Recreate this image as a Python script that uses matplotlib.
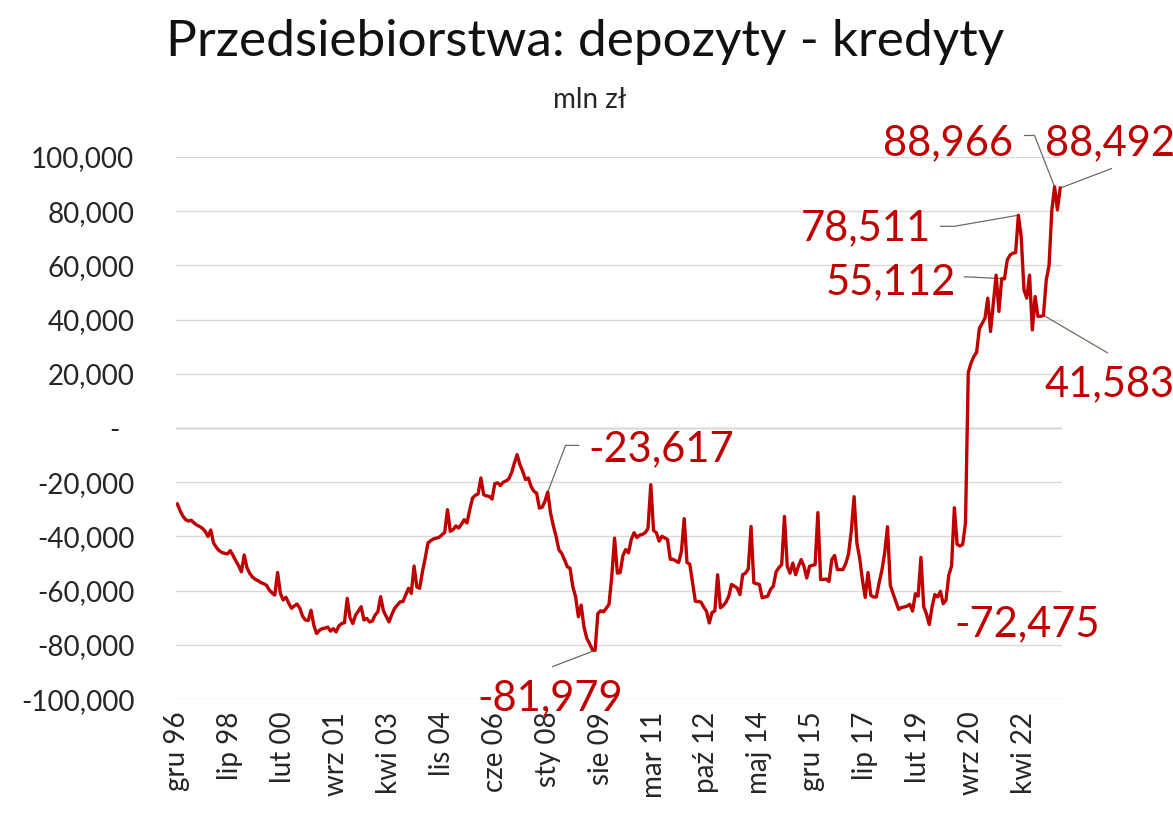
import matplotlib
matplotlib.use("Agg")
import matplotlib.pyplot as plt
import numpy as np

# Monthly balance, gru 96 .. maj 23, thousands of PLN million
balance = [
    -28.0, -30.5, -32.5, -33.8, -34.3, -34.0, -35.0, -35.8, -36.3, -37.0,
    -38.1, -40.0, -37.6, -42.4, -44.0, -45.2, -45.9, -46.2, -46.4, -45.2,
    -47.0, -49.0, -50.8, -53.0, -46.8, -51.5, -53.6, -55.0, -55.8, -56.3,
    -57.0, -57.4, -58.0, -59.7, -60.8, -61.6, -53.3, -61.0, -63.4, -62.4,
    -64.6, -66.5, -65.6, -64.9, -66.5, -69.5, -70.8, -71.0, -67.2, -72.7,
    -75.8, -74.6, -74.0, -73.8, -73.4, -74.9, -74.0, -75.2, -73.0, -72.1,
    -71.8, -62.8, -70.0, -72.1, -69.0, -67.5, -65.9, -70.8, -70.2, -71.5,
    -71.2, -69.0, -67.8, -62.2, -67.4, -69.5, -71.5, -68.8, -66.5, -65.3,
    -64.1, -64.0, -61.5, -59.1, -61.0, -50.9, -58.6, -59.1, -53.0, -48.0,
    -42.4, -41.5, -40.9, -40.6, -40.3, -39.4, -38.5, -30.1, -38.1, -37.5,
    -36.1, -36.9, -35.5, -33.8, -35.0, -30.1, -25.8, -24.8, -24.3, -18.4,
    -24.6, -25.0, -25.2, -26.2, -20.5, -20.2, -21.2, -20.0, -19.5, -18.8,
    -16.5, -13.0, -9.8, -13.5, -15.9, -19.0, -18.4, -21.5, -23.3, -24.0,
    -29.5, -29.2, -27.0, -23.617, -31.3, -36.0, -40.0, -44.9, -46.2, -48.5,
    -51.1, -51.7, -58.5, -62.2, -69.6, -65.3, -73.3, -77.5, -79.5, -81.7,
    -81.979, -68.4, -67.4, -67.8, -66.5, -65.0, -54.6, -40.6, -53.5, -53.3,
    -47.0, -44.8, -46.0, -41.1, -38.6, -40.4, -39.5, -39.2, -38.6, -37.0,
    -20.9, -37.8, -38.6, -41.7, -39.9, -40.5, -41.1, -48.4, -48.4, -49.0,
    -49.6, -45.5, -33.4, -49.6, -50.2, -57.0, -63.9, -64.0, -64.2, -66.0,
    -67.6, -71.9, -68.0, -67.5, -54.1, -66.3, -65.5, -64.2, -62.0, -57.7,
    -58.3, -59.0, -61.4, -54.1, -53.5, -52.0, -36.3, -57.1, -57.4, -57.7,
    -62.6, -62.3, -62.0, -59.5, -58.3, -53.0, -51.5, -50.4, -32.6, -51.0,
    -53.5, -49.8, -54.1, -51.0, -48.5, -51.0, -55.3, -51.0, -50.6, -50.4,
    -31.2, -55.9, -55.8, -55.7, -56.6, -48.5, -47.0, -52.2, -52.2, -52.2,
    -50.0, -46.5, -38.0, -25.3, -42.4, -48.0, -56.0, -62.5, -53.3, -61.7,
    -62.3, -62.3, -57.0, -52.4, -46.0, -36.4, -58.0, -61.1, -64.0, -66.9,
    -66.2, -66.0, -65.7, -65.0, -67.5, -61.1, -62.0, -47.7, -65.9, -68.6,
    -72.475, -66.0, -61.4, -62.3, -60.2, -64.8, -63.5, -54.3, -50.9, -29.4,
    -42.9, -43.5, -42.9, -35.0, 20.5, 24.0, 26.4, 27.9, 36.8, 38.6,
    40.5, 47.9, 35.6, 46.1, 56.4, 43.0, 55.112, 55.0, 62.0, 63.8,
    64.5, 64.7, 78.511, 70.5, 51.0, 47.9, 56.4, 36.2, 48.5, 41.2,
    41.2, 41.583, 54.6, 59.9, 80.3, 88.966, 80.5, 88.492,
]
values = np.array(balance) * 1000

tick_labels = ["gru 96", "lip 98", "lut 00", "wrz 01", "kwi 03", "lis 04",
               "cze 06", "sty 08", "sie 09", "mar 11", "paź 12", "maj 14",
               "gru 15", "lip 17", "lut 19", "wrz 20", "kwi 22"]
tick_step = 19

# labelled points: index, text anchor (x, y), alignment, leader path
callouts = [
    (133, (147.7, -7900), "left", [(144.1, -6400), (139.4, -6400)]),
    (150, (134.0, -99800), "center", [(134.7, -88000)]),
    (270, (279.0, -72200), "left", []),
    (296, (279.7, 53900), "right", [(282.6, 55800)]),
    (302, (270.7, 73700), "right", [(274.0, 74400), (279.0, 74400)]),
    (311, (311.4, 16000), "left", [(333.9, 27800)]),
    (315, (300.2, 105000), "right", [(304.2, 107900), (307.8, 107900)]),
    (317, (311.4, 105000), "left", [(335.4, 95700)]),
]

red = "#C00000"
text_color = "#262626"
plt.rcParams["font.family"] = ["Lato", "DejaVu Sans"]

fig = plt.figure(figsize=(11.73, 8.13), dpi=100)
ax = fig.add_axes([0.150, 0.140, 0.755, 0.667])

x = np.arange(len(values))
ax.plot(x, values, color=red, lw=2.4, solid_joinstyle="round", zorder=3)

ax.set_xlim(-0.5, len(values) - 0.5)
ax.set_ylim(-100000, 100000)

yticks = np.arange(-100000, 100001, 20000)
ax.set_yticks(yticks)
ax.set_yticklabels([f"{v:,.0f}" if v != 0 else "-  " for v in yticks])
ax.set_xticks(np.arange(0, len(values), tick_step))
ax.set_xticklabels(tick_labels, rotation=90, ha="center", va="top")

ax.tick_params(axis="y", length=0, pad=30, labelsize=20, labelcolor=text_color)
ax.tick_params(axis="x", length=0, pad=9, labelsize=20, labelcolor=text_color)

ax.grid(axis="y", color="#d9d9d9", lw=1.0, zorder=0)
ax.axhline(0, color="#a6a6a6", lw=1.0, zorder=1)
for s in ax.spines.values():
    s.set_visible(False)

for idx, (tx, ty), align, path in callouts:
    val = values[idx]
    ax.text(tx, ty, f"{val:,.0f}", color=red, fontsize=30,
            ha=align, va="center", zorder=4)
    if path:
        px = [p[0] for p in path] + [idx]
        py = [p[1] for p in path] + [val]
        ax.plot(px, py, color="#6b6b5f", lw=0.9, zorder=2, clip_on=False)

fig.text(0.499, 0.948, "Przedsiebiorstwa: depozyty - kredyty", ha="center",
         va="center", fontsize=37, color="#111111")
fig.text(0.503, 0.877, "mln zł", ha="center", va="center", fontsize=20,
         color=text_color)

fig.savefig("out.png", dpi=100)
